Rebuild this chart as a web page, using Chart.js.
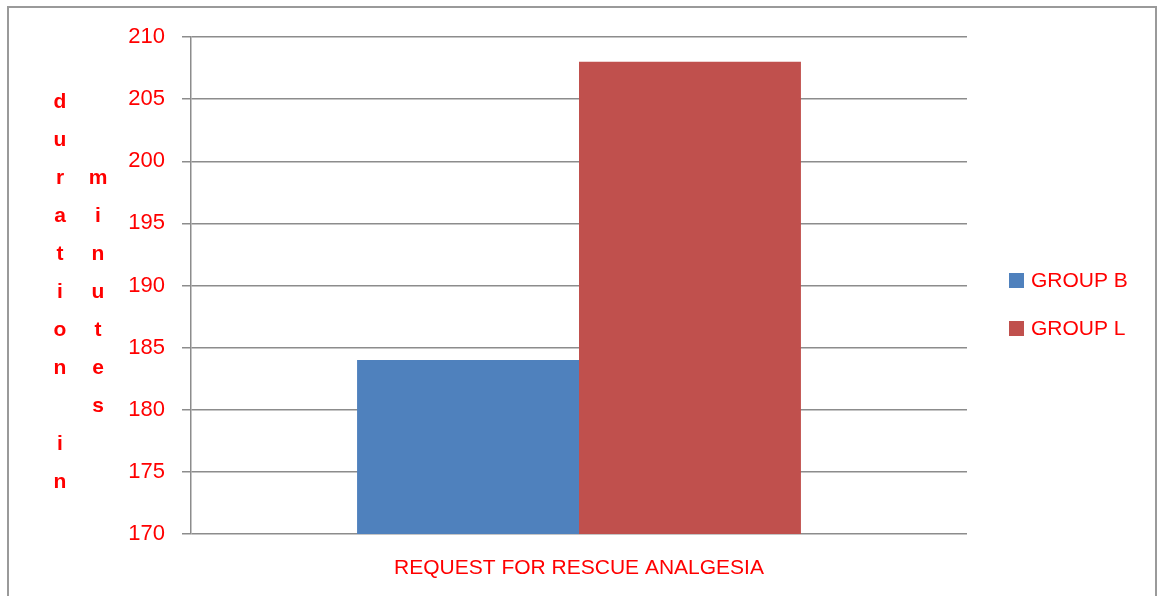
<!DOCTYPE html>
<html>
<head>
<meta charset="utf-8">
<script src="https://cdn.jsdelivr.net/npm/chart.js@4"></script>
<style>
  html, body { margin: 0; padding: 0; background: #fff; }
  canvas { display: block; }
</style>
</head>
<body>
<canvas id="myChart" width="1157" height="596"></canvas>
<script>
var categories = ['REQUEST FOR RESCUE ANALGESIA'];
var seriesNames = ['GROUP B', 'GROUP L'];
var groupB = [184];
var groupL = [208];
var yMin = 170, yMax = 210, yStep = 5;
var yTitleColumns = ['duration in', 'minutes'];

var red = '#ff0000';

// stacked (vertical) axis title, outer frame and right legend
var extras = {
    id: 'extras',
    beforeDraw: function (chart) {
        var c = chart.ctx;
        c.save();
        c.strokeStyle = '#9a9a9a';
        c.lineWidth = 2;
        c.strokeRect(8, 7, 1148, 620);
        c.restore();
    },
    afterDraw: function (chart) {
        var c = chart.ctx;
        var area = chart.chartArea;
        c.save();
        // y title, letter by letter
        c.font = 'bold 21px "Liberation Sans"';
        c.fillStyle = red;
        c.textAlign = 'center';
        c.textBaseline = 'alphabetic';
        var colX = [60, 98];
        var rowH = 38;
        var midY = (area.top + area.bottom) / 2 + 5;
        yTitleColumns.forEach(function (txt, k) {
            var n = txt.length;
            var y0 = midY - (n - 1) * rowH / 2 + 7;
            for (var i = 0; i < n; i++) {
                c.fillText(txt[i], colX[k], y0 + i * rowH);
            }
        });
        // legend
        c.font = '21px "Liberation Sans"';
        c.textAlign = 'left';
        c.textBaseline = 'middle';
        chart.data.datasets.forEach(function (ds, i) {
            var cy = 280.5 + i * 48;
            c.fillStyle = ds.backgroundColor;
            c.fillRect(1009, cy - 7.5, 15, 15);
            c.fillStyle = red;
            c.fillText(ds.label, 1031, cy + 1);
        });
        c.restore();
    }
};

var ctx = document.getElementById('myChart').getContext('2d');
var myChart = new Chart(ctx, {
    type: 'bar',
    data: {
        labels: categories,
        datasets: [{
            label: seriesNames[0],
            data: groupB,
            backgroundColor: '#4f81bd',
            borderWidth: 0
        }, {
            label: seriesNames[1],
            data: groupL,
            backgroundColor: '#c0504d',
            borderWidth: 0
        }]
    },
    options: {
        responsive: false,
        animation: false,
        categoryPercentage: 0.572,
        barPercentage: 1,
        layout: {
            padding: { left: 0, right: 190, top: 37, bottom: 0 }
        },
        plugins: {
            legend: { display: false },
            tooltip: { enabled: false }
        },
        scales: {
            x: {
                grid: { display: false, drawTicks: false },
                border: { display: false },
                ticks: {
                    color: red,
                    padding: 22,
                    font: { family: 'Liberation Sans', size: 21 }
                },
                afterFit: function (s) { s.height = 62; }
            },
            y: {
                min: yMin,
                max: yMax,
                grid: { color: '#8c8c8c', lineWidth: 1.5, tickLength: 9 },
                border: { color: '#8c8c8c', width: 1.5 },
                ticks: {
                    stepSize: yStep,
                    color: red,
                    padding: 17,
                    font: { family: 'Liberation Sans', size: 22 }
                },
                afterFit: function (s) { s.width = 191; }
            }
        }
    },
    plugins: [extras]
});
</script>
</body>
</html>
